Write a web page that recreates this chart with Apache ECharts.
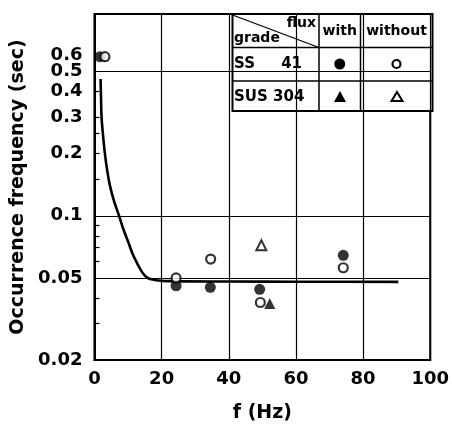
<!DOCTYPE html>
<html>
<head>
<meta charset="utf-8">
<script src="https://cdn.jsdelivr.net/npm/echarts@6/dist/echarts.min.js"></script>
<style>
  html, body { margin: 0; padding: 0; background: #fff; }
  #main { width: 452px; height: 428px; }
</style>
</head>
<body>
<div id="main"></div>
<script>
// readings: [f (Hz), occurrence frequency (sec)]
var ssWith = [[1.6, 0.59], [24.3, 0.0458], [34.5, 0.0450], [49.2, 0.0440], [74.1, 0.0643]];
var ssWithout = [[3.1, 0.59], [24.3, 0.0500], [34.6, 0.0617], [49.4, 0.0380], [74.1, 0.0560]];
var susWith = [[52.2, 0.0376]];
var susWithout = [[49.7, 0.0720]];
var curve = [[1.8, 0.46], [1.95, 0.37], [2.1, 0.30], [2.6, 0.24], [3.1, 0.20], [3.8, 0.165],
             [4.6, 0.14], [5.8, 0.118], [7.3, 0.10], [8.6, 0.086], [10, 0.075], [11.4, 0.065],
             [12.9, 0.058], [14.3, 0.053], [15.8, 0.050], [17, 0.0492], [18.3, 0.0487],
             [22, 0.0482], [40, 0.0480], [60, 0.0479], [90.5, 0.0478]];

var yLabels = [0.02, 0.05, 0.1, 0.2, 0.3, 0.4, 0.5];
var yLabelsTop = [0.6];   // squeezed against 0.5, put on its own axis so it is not dropped
var yTicks = [0.03, 0.04, 0.06, 0.07, 0.08, 0.09, 0.15, 0.2, 0.25, 0.3, 0.4];
var yGrid = [0.05, 0.1, 0.5];

var FONT = 'DejaVu Sans';
var Y_MIN = 0.02, Y_MAX = 0.95;

var myChart = echarts.init(document.getElementById('main'));

// table (legend) in the upper right corner
var tx = 232.5, tr = 432.5, ty = 14, tb = 111;
var c1 = 319, c2 = 360.5, r1 = 47.5, r2 = 81;
function ln(x1, y1, x2, y2, w) {
  return { type: 'line', shape: { x1: x1, y1: y1, x2: x2, y2: y2 },
           style: { stroke: '#000', lineWidth: w || 1.5 } };
}
function txt(x, y, s, size, align) {
  return { type: 'text', x: x, y: y,
           style: { text: s, fill: '#000', font: 'bold ' + size + 'px "' + FONT + '"',
                    textAlign: align || 'left', textVerticalAlign: 'middle' } };
}
var table = {
  type: 'group', z: 100,
  children: [
    { type: 'rect', shape: { x: tx, y: ty, width: tr - tx, height: tb - ty },
      style: { fill: '#fff', stroke: '#000', lineWidth: 2 } },
    ln(tx, r1, tr, r1), ln(tx, r2, tr, r2),
    ln(c1, ty, c1, tb), ln(c2, ty, c2, tb),
    ln(tx, ty + 1, c1, r1, 1.3),
    txt(316, 23, 'flux', 14, 'right'),
    txt(234, 38, 'grade', 14),
    txt((c1 + c2) / 2, 31.5, 'with', 14, 'center'),
    txt((c2 + tr) / 2, 31.5, 'without', 14, 'center'),
    txt(234, 64, 'SS', 15), txt(302, 64, '41', 15, 'right'),
    txt(234, 97, 'SUS 304', 15),
    { type: 'circle', shape: { cx: (c1 + c2) / 2, cy: 64, r: 5.5 }, style: { fill: '#000' } },
    { type: 'circle', shape: { cx: (c2 + tr) / 2, cy: 64, r: 4 },
      style: { fill: '#fff', stroke: '#000', lineWidth: 2.2 } },
    { type: 'polygon', shape: { points: [[340, 91], [346, 102], [334, 102]] }, style: { fill: '#000' } },
    { type: 'polygon', shape: { points: [[397, 92], [402.5, 101], [391.5, 101]] },
      style: { fill: '#fff', stroke: '#000', lineWidth: 2 } }
  ]
};

var labelStyle = { fontFamily: FONT, fontWeight: 'bold', fontSize: 18, color: '#000', margin: 12,
                   lineHeight: 14, formatter: function (v) { return String(+v.toPrecision(3)); } };

var option = {
  animation: false,
  backgroundColor: '#fff',
  grid: { left: 94.5, top: 14, width: 338.5, height: 351, show: true,
           borderColor: '#000', borderWidth: 2, backgroundColor: 'transparent' },
  xAxis: {
    type: 'value', min: 0, max: 100, interval: 20,
    name: 'f (Hz)', nameLocation: 'middle', nameGap: 44,
    nameTextStyle: { fontFamily: FONT, fontWeight: 'bold', fontSize: 19, color: '#000' },
    axisLine: { lineStyle: { color: '#000', width: 2 } },
    axisTick: { show: false },
    axisLabel: { fontFamily: FONT, fontWeight: 'bold', fontSize: 18, color: '#000', margin: 10 },
    splitLine: { show: true, lineStyle: { color: '#000', width: 1.2 } }
  },
  yAxis: [{
    type: 'log', logBase: 10, min: Y_MIN, max: Y_MAX, position: 'left',
    name: 'Occurrence frequency (sec)', nameLocation: 'middle', nameGap: 64,
    nameTextStyle: { fontFamily: FONT, fontWeight: 'bold', fontSize: 19, color: '#000' },
    axisLine: { show: true, lineStyle: { color: '#000', width: 2 } },
    axisTick: { show: true, inside: true, length: 5, customValues: yTicks,
                lineStyle: { color: '#000', width: 1.2 } },
    axisLabel: Object.assign({ customValues: yLabels }, labelStyle),
    splitLine: { show: false }
  }, {
    type: 'log', logBase: 10, min: Y_MIN, max: Y_MAX, position: 'left', offset: 0,
    axisLine: { show: false }, axisTick: { show: false }, splitLine: { show: false },
    axisLabel: Object.assign({ customValues: yLabelsTop, showMaxLabel: true }, labelStyle)
  }],
  graphic: [table],
  series: [
    { type: 'line', data: curve, symbol: 'none', smooth: 0.3,
      lineStyle: { color: '#000', width: 2.6 }, z: 3,
      markLine: { silent: true, symbol: 'none', label: { show: false },
                  lineStyle: { color: '#000', width: 1.2, type: 'solid' },
                  data: yGrid.map(function (v) { return { yAxis: v }; }) } },
    { type: 'scatter', data: ssWith, symbol: 'circle', symbolSize: 11,
      itemStyle: { color: '#000' }, z: 4 },
    { type: 'scatter', data: ssWithout, symbol: 'circle', symbolSize: 9,
      itemStyle: { color: '#fff', borderColor: '#000', borderWidth: 2.2 }, z: 5 },
    { type: 'scatter', data: susWith, symbol: 'triangle', symbolSize: 11,
      itemStyle: { color: '#000' }, z: 4 },
    { type: 'scatter', data: susWithout, symbol: 'triangle', symbolSize: 10,
      itemStyle: { color: '#fff', borderColor: '#000', borderWidth: 2 }, z: 5 }
  ]
};

myChart.setOption(option);
</script>
</body>
</html>
